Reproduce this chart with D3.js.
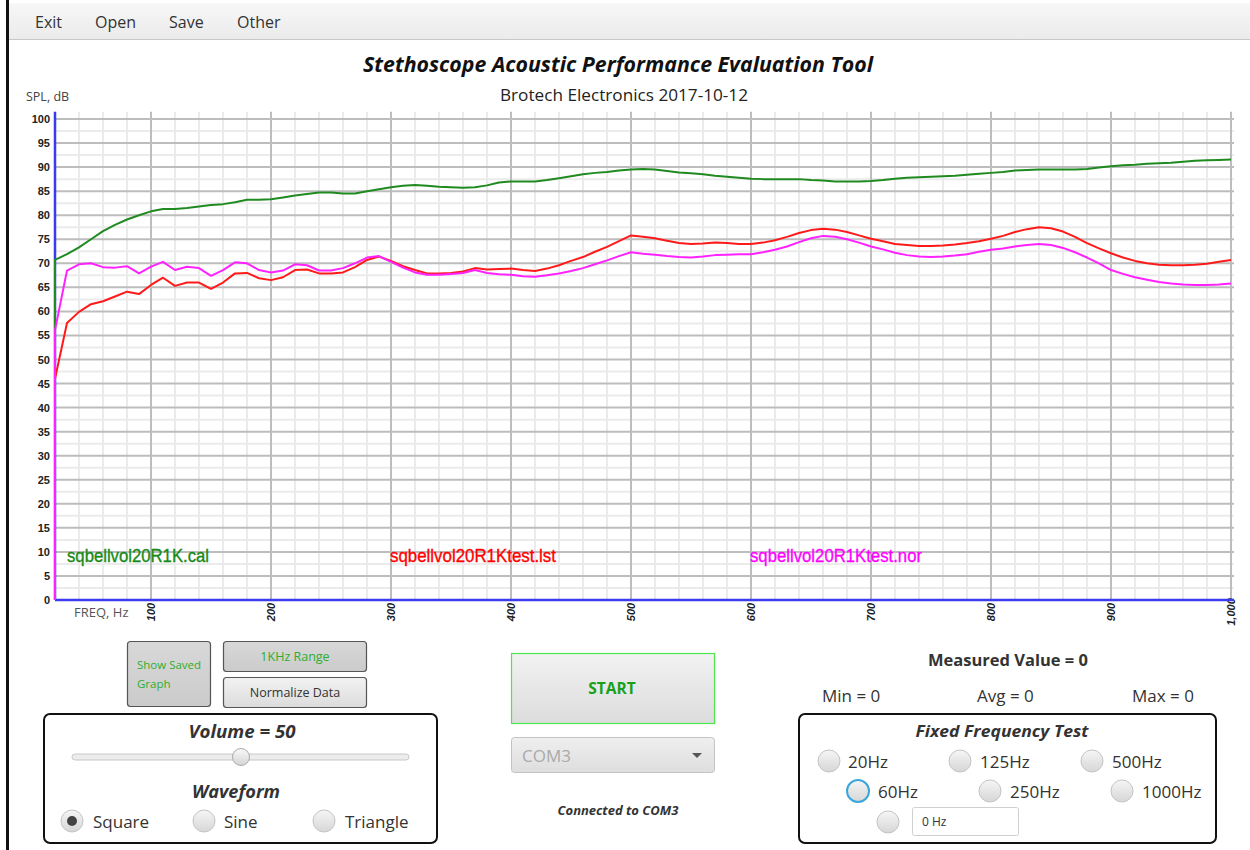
<!DOCTYPE html>
<html><head><meta charset="utf-8">
<script src="https://cdn.jsdelivr.net/npm/d3@7"></script>
<style>
body{margin:0;background:#fff;}
svg{display:block;font-family:"Open Sans",sans-serif;}
</style>
</head><body>
<svg id="c" width="1250" height="850"></svg>
<script>
// ---------------- DATA ----------------
const freqs = [20,30,40,50,60,70,80,90,100,110,120,130,140,150,160,170,180,190,200,
  210,220,230,240,250,260,270,280,290,300,310,320,330,340,350,360,370,380,390,400,
  410,420,430,440,450,460,470,480,490,500,510,520,530,540,550,560,570,580,590,600,
  610,620,630,640,650,660,670,680,690,700,710,720,730,740,750,760,770,780,790,800,
  810,820,830,840,850,860,870,880,890,900,910,920,930,940,950,960,970,980,990,1000];

const calValues = [70.7,71.9,73.3,75.0,76.7,78.0,79.1,80.0,80.8,81.3,81.3,81.5,81.8,82.1,82.3,82.7,83.2,83.2,83.3,
  83.7,84.1,84.4,84.7,84.7,84.5,84.5,85.0,85.4,85.8,86.1,86.3,86.1,85.9,85.8,85.7,85.8,86.2,86.8,87.0,
  87.0,87.0,87.3,87.7,88.1,88.5,88.8,89.0,89.3,89.5,89.6,89.5,89.2,88.9,88.7,88.5,88.2,88.0,87.8,87.6,
  87.5,87.5,87.5,87.5,87.3,87.2,87.0,87.0,87.0,87.1,87.3,87.6,87.8,87.9,88.0,88.1,88.2,88.4,88.6,88.8,
  89.0,89.3,89.4,89.5,89.5,89.5,89.5,89.6,89.9,90.2,90.4,90.5,90.7,90.8,90.9,91.1,91.3,91.4,91.5,91.6];

const lstValues = [46.0,57.6,59.9,61.5,62.1,63.1,64.1,63.6,65.5,67.0,65.3,66.0,66.0,64.7,66.0,67.9,68.0,66.9,66.5,
  67.1,68.6,68.7,67.9,67.9,68.1,69.2,70.7,71.4,70.5,69.4,68.6,67.9,67.9,68.0,68.3,69.0,68.7,68.8,68.9,
  68.6,68.4,68.9,69.6,70.5,71.3,72.4,73.4,74.6,75.8,75.5,75.2,74.7,74.2,74.0,74.1,74.3,74.2,74.0,74.0,
  74.3,74.8,75.5,76.3,76.9,77.2,77.0,76.5,75.8,75.1,74.6,74.0,73.8,73.6,73.6,73.7,73.9,74.2,74.6,75.1,
  75.7,76.5,77.1,77.5,77.3,76.6,75.5,74.2,73.1,72.1,71.2,70.5,70.0,69.7,69.6,69.6,69.7,69.9,70.3,70.7];

const norValues = [56.1,68.5,69.8,70.0,69.2,69.1,69.4,67.9,69.3,70.3,68.6,69.3,69.0,67.4,68.6,70.2,70.0,68.6,68.1,
  68.5,69.8,69.6,68.5,68.5,69.0,70.0,71.2,71.5,70.3,69.1,68.1,67.6,67.6,67.8,68.0,68.6,68.0,67.7,67.6,
  67.3,67.2,67.5,67.9,68.4,69.0,69.8,70.6,71.5,72.3,72.0,71.8,71.5,71.3,71.2,71.4,71.7,71.8,71.9,71.9,
  72.3,72.8,73.5,74.4,75.2,75.7,75.5,75.0,74.3,73.5,72.9,72.2,71.7,71.4,71.3,71.4,71.6,71.9,72.4,72.8,
  73.1,73.5,73.8,74.0,73.8,73.2,72.3,71.2,70.0,68.6,67.8,67.1,66.6,66.1,65.8,65.6,65.5,65.5,65.6,65.8];

const seriesNames = ["sqbellvol20R1K.cal","sqbellvol20R1Ktest.lst","sqbellvol20R1Ktest.nor"];
const yTickValues = [0,5,10,15,20,25,30,35,40,45,50,55,60,65,70,75,80,85,90,95,100];
const xTickValues = [100,200,300,400,500,600,700,800,900,1000];

// ---------------- SETUP ----------------
const svg = d3.select("#c");
const defs = svg.append("defs");
function grad(id, c1, c2){
  const g = defs.append("linearGradient").attr("id",id).attr("x1",0).attr("y1",0).attr("x2",0).attr("y2",1);
  g.append("stop").attr("offset","0%").attr("stop-color",c1);
  g.append("stop").attr("offset","100%").attr("stop-color",c2);
}
grad("gMenu","#f7f7f7","#ebebeb");
grad("gBtn","#f2f2f2","#dcdcdc");
grad("gBtnDark","#d8d8d8","#cbcbcb");
grad("gRadio","#f6f6f6","#d6d6d6");
grad("gCombo","#efefef","#dedede");
grad("gThumb","#fafafa","#d4d4d4");

// window chrome
svg.append("rect").attr("x",0).attr("y",0).attr("width",1250).attr("height",850).attr("fill","#fff");
svg.append("rect").attr("x",9).attr("y",3).attr("width",1241).attr("height",36).attr("fill","url(#gMenu)");
svg.append("line").attr("x1",9).attr("x2",1250).attr("y1",39.5).attr("y2",39.5).attr("stroke","#c8c8c8");
svg.append("rect").attr("x",6).attr("y",0).attr("width",3).attr("height",850).attr("fill","#111");
[["Exit",35],["Open",95],["Save",169],["Other",237]].forEach(([t,x])=>{
  svg.append("text").attr("x",x).attr("y",28).attr("font-size",16).attr("fill","#333").text(t);
});

// titles
svg.append("text").attr("x",618).attr("y",72).attr("text-anchor","middle")
  .attr("font-size",21).attr("font-weight","bold").attr("font-style","italic").attr("fill","#111")
  .attr("textLength",510).attr("lengthAdjust","spacingAndGlyphs")
  .text("Stethoscope Acoustic Performance Evaluation Tool");
svg.append("text").attr("x",624).attr("y",101).attr("text-anchor","middle")
  .attr("font-size",16).attr("fill","#222").attr("textLength",248).attr("lengthAdjust","spacingAndGlyphs")
  .text("Brotech Electronics 2017-10-12");
svg.append("text").attr("x",26).attr("y",101).attr("font-size",12.5).attr("fill","#444").text("SPL, dB");
svg.append("text").attr("x",74).attr("y",617).attr("font-size",13).attr("fill","#555").text("FREQ, Hz");

// ---------------- CHART ----------------
const x = d3.scaleLinear().domain([20,1000]).range([55,1231]);
const y = d3.scaleLinear().domain([0,100]).range([600,119]);
const plotTop = y(101.5), plotRight = x(1000)+3;

const grid = svg.append("g");
// minor grid: every 2.5 dB and every 20 Hz
const yMinor = y.ticks(200).filter(v=>(v*2)%5===0 && v%5!==0);
const xMinor = x.ticks(49).filter(v=>v%100!==0);
grid.selectAll(".hmin").data(yMinor).join("line")
  .attr("x1",x(20)).attr("x2",plotRight).attr("y1",d=>y(d)).attr("y2",d=>y(d))
  .attr("stroke","#ebebeb").attr("stroke-width",2);
grid.selectAll(".vmin").data(xMinor).join("line")
  .attr("x1",d=>x(d)).attr("x2",d=>x(d)).attr("y1",plotTop).attr("y2",y(0))
  .attr("stroke","#ebebeb").attr("stroke-width",2);
// major grid
grid.selectAll(".hmaj").data(yTickValues.filter(v=>v>0)).join("line")
  .attr("x1",x(20)).attr("x2",plotRight).attr("y1",d=>y(d)).attr("y2",d=>y(d))
  .attr("stroke","#bdbdbd").attr("stroke-width",2);
grid.selectAll(".vmaj").data(xTickValues).join("line")
  .attr("x1",d=>x(d)).attr("x2",d=>x(d)).attr("y1",plotTop).attr("y2",y(0))
  .attr("stroke","#bdbdbd").attr("stroke-width",2);

// axes
const yAxis = svg.append("g").attr("transform",`translate(${x(20)},0)`)
  .call(d3.axisLeft(y).tickValues(yTickValues).tickSize(0).tickPadding(5));
yAxis.select(".domain").remove();
yAxis.selectAll("text").attr("font-family","'Liberation Sans',Arial,sans-serif")
  .attr("font-weight","bold").attr("font-size",11).attr("fill","#222");

const xAxis = svg.append("g").attr("transform",`translate(0,${y(0)})`)
  .call(d3.axisBottom(x).tickValues(xTickValues).tickSize(0));
xAxis.select(".domain").remove();
xAxis.selectAll("text").attr("font-family","'Liberation Sans',Arial,sans-serif")
  .attr("font-weight","bold").attr("font-style","italic").attr("font-size",11).attr("fill","#222")
  .attr("x",0).attr("y",0).attr("dy","0.35em")
  .attr("transform","translate(0,12) rotate(-90)").style("text-anchor","middle");

svg.append("line").attr("x1",x(20)).attr("x2",x(20)).attr("y1",plotTop).attr("y2",y(0))
  .attr("stroke","#3a3af0").attr("stroke-width",2.5);
svg.append("line").attr("x1",x(20)).attr("x2",plotRight).attr("y1",y(0)).attr("y2",y(0))
  .attr("stroke","#3a3af0").attr("stroke-width",2.5);

// series
const series = [
  {name:seriesNames[0], values:calValues, color:"#1f8a1f", text:"#168a16", lx:67, lw:142},
  {name:seriesNames[1], values:lstValues, color:"#ff1a1a", text:"#ff0000", lx:390, lw:166},
  {name:seriesNames[2], values:norValues, color:"#ff22ff", text:"#ff00ff", lx:750, lw:172}
];
const line = d3.line().x(d=>x(d.f)).y(d=>y(d.v));
series.forEach(s=>{
  const pts = [{f:freqs[0], v:0}].concat(freqs.map((f,i)=>({f, v:s.values[i]})));
  svg.append("path").datum(pts).attr("d",line).attr("fill","none")
    .attr("stroke",s.color).attr("stroke-width",2).attr("stroke-linejoin","round");
});
series.forEach(s=>{
  svg.append("text").attr("x",s.lx).attr("y",562).attr("font-family","'Liberation Sans',Arial,sans-serif")
    .attr("font-size",18.5).attr("fill",s.text).attr("stroke",s.text).attr("stroke-width",0.35)
    .attr("textLength",s.lw).attr("lengthAdjust","spacingAndGlyphs")
    .text(s.name);
});

// ---------------- CONTROLS ----------------
function button(x0,y0,w,h,fill,stroke){
  svg.append("rect").attr("x",x0+0.5).attr("y",y0+0.5).attr("width",w).attr("height",h).attr("rx",3)
    .attr("fill",fill).attr("stroke",stroke).attr("stroke-width",1.2);
}
function txt(t,x0,y0,opt={}){
  const e = svg.append("text").attr("x",x0).attr("y",y0).attr("font-size",opt.size||16)
    .attr("fill",opt.fill||"#333").attr("text-anchor",opt.anchor||"start").text(t);
  if(opt.bold) e.attr("font-weight","bold");
  if(opt.italic) e.attr("font-style","italic");
  if(opt.len) e.attr("textLength",opt.len).attr("lengthAdjust","spacingAndGlyphs");
  return e;
}
function radio(cx,cy,opt={}){
  svg.append("circle").attr("cx",cx).attr("cy",cy).attr("r",11).attr("fill","url(#gRadio)")
    .attr("stroke",opt.focus?"#3aa6dc":"#c4c4c4").attr("stroke-width",opt.focus?2:1);
  if(opt.selected) svg.append("circle").attr("cx",cx).attr("cy",cy).attr("r",5).attr("fill","#444");
}

button(127,641,83,65,"url(#gBtnDark)","#555");
txt("Show Saved",137,669,{size:11.5,fill:"#2eae2e"});
txt("Graph",137,688,{size:11.5,fill:"#2eae2e"});
button(223,641,143,30,"url(#gBtnDark)","#555");
txt("1KHz Range",295,661,{size:12.5,fill:"#2eae2e",anchor:"middle"});
button(223,677,143,30,"url(#gBtn)","#555");
txt("Normalize Data",295,697,{size:12.5,fill:"#333",anchor:"middle"});

// volume box
svg.append("rect").attr("x",44).attr("y",714).attr("width",393).attr("height",129).attr("rx",6)
  .attr("fill","#fff").attr("stroke","#111").attr("stroke-width",2);
txt("Volume = 50",242,738,{size:17,bold:true,italic:true,anchor:"middle",fill:"#333",len:107});
svg.append("rect").attr("x",72).attr("y",754).attr("width",337).attr("height",6).attr("rx",3)
  .attr("fill","#ececec").attr("stroke","#c8c8c8");
svg.append("circle").attr("cx",241).attr("cy",757).attr("r",8.5).attr("fill","url(#gThumb)").attr("stroke","#aaa");
txt("Waveform",236,798,{size:17,bold:true,italic:true,anchor:"middle",fill:"#333",len:88});
radio(72,821,{selected:true}); txt("Square",93,828,{size:17});
radio(204,821); txt("Sine",224,828,{size:17});
radio(324,821); txt("Triangle",345,828,{size:17});

// start / combo
svg.append("rect").attr("x",511.5).attr("y",653.5).attr("width",203).attr("height",70)
  .attr("fill","url(#gBtn)").attr("stroke","#4ee84e").attr("stroke-width",1.2);
txt("START",612,694,{size:15.5,bold:true,fill:"#18a018",anchor:"middle"});
svg.append("rect").attr("x",511.5).attr("y",737.5).attr("width",203).attr("height",35).attr("rx",3)
  .attr("fill","url(#gCombo)").attr("stroke","#c3c3c3");
txt("COM3",522,762,{size:17,fill:"#aaa"});
svg.append("path").attr("d","M692,753 L702,753 L697,758 Z").attr("fill","#555");
txt("Connected to COM3",618,815,{size:13,bold:true,italic:true,fill:"#333",anchor:"middle"});

// measured values
txt("Measured Value = 0",1008,666,{size:16.5,bold:true,anchor:"middle",fill:"#333"});
txt("Min = 0",822,702,{size:17});
txt("Avg = 0",977,702,{size:17});
txt("Max = 0",1132,702,{size:17});

// fixed frequency box
svg.append("rect").attr("x",799).attr("y",714).attr("width",417).attr("height",129).attr("rx",6)
  .attr("fill","#fff").attr("stroke","#111").attr("stroke-width",2);
txt("Fixed Frequency Test",1002,737,{size:16.5,bold:true,italic:true,anchor:"middle",fill:"#333",len:173});
radio(829,761); txt("20Hz",848,768,{size:17});
radio(960,761); txt("125Hz",980,768,{size:17});
radio(1092,761); txt("500Hz",1112,768,{size:17});
radio(858,791,{focus:true}); txt("60Hz",878,798,{size:17});
radio(990,791); txt("250Hz",1010,798,{size:17});
radio(1122,791); txt("1000Hz",1142,798,{size:17});
radio(888,822);
svg.append("rect").attr("x",912.5).attr("y",807.5).attr("width",106).attr("height",28).attr("rx",2)
  .attr("fill","#fff").attr("stroke","#d0d0d0");
txt("0 Hz",922,826,{size:12,fill:"#333"});
</script>
</body></html>
